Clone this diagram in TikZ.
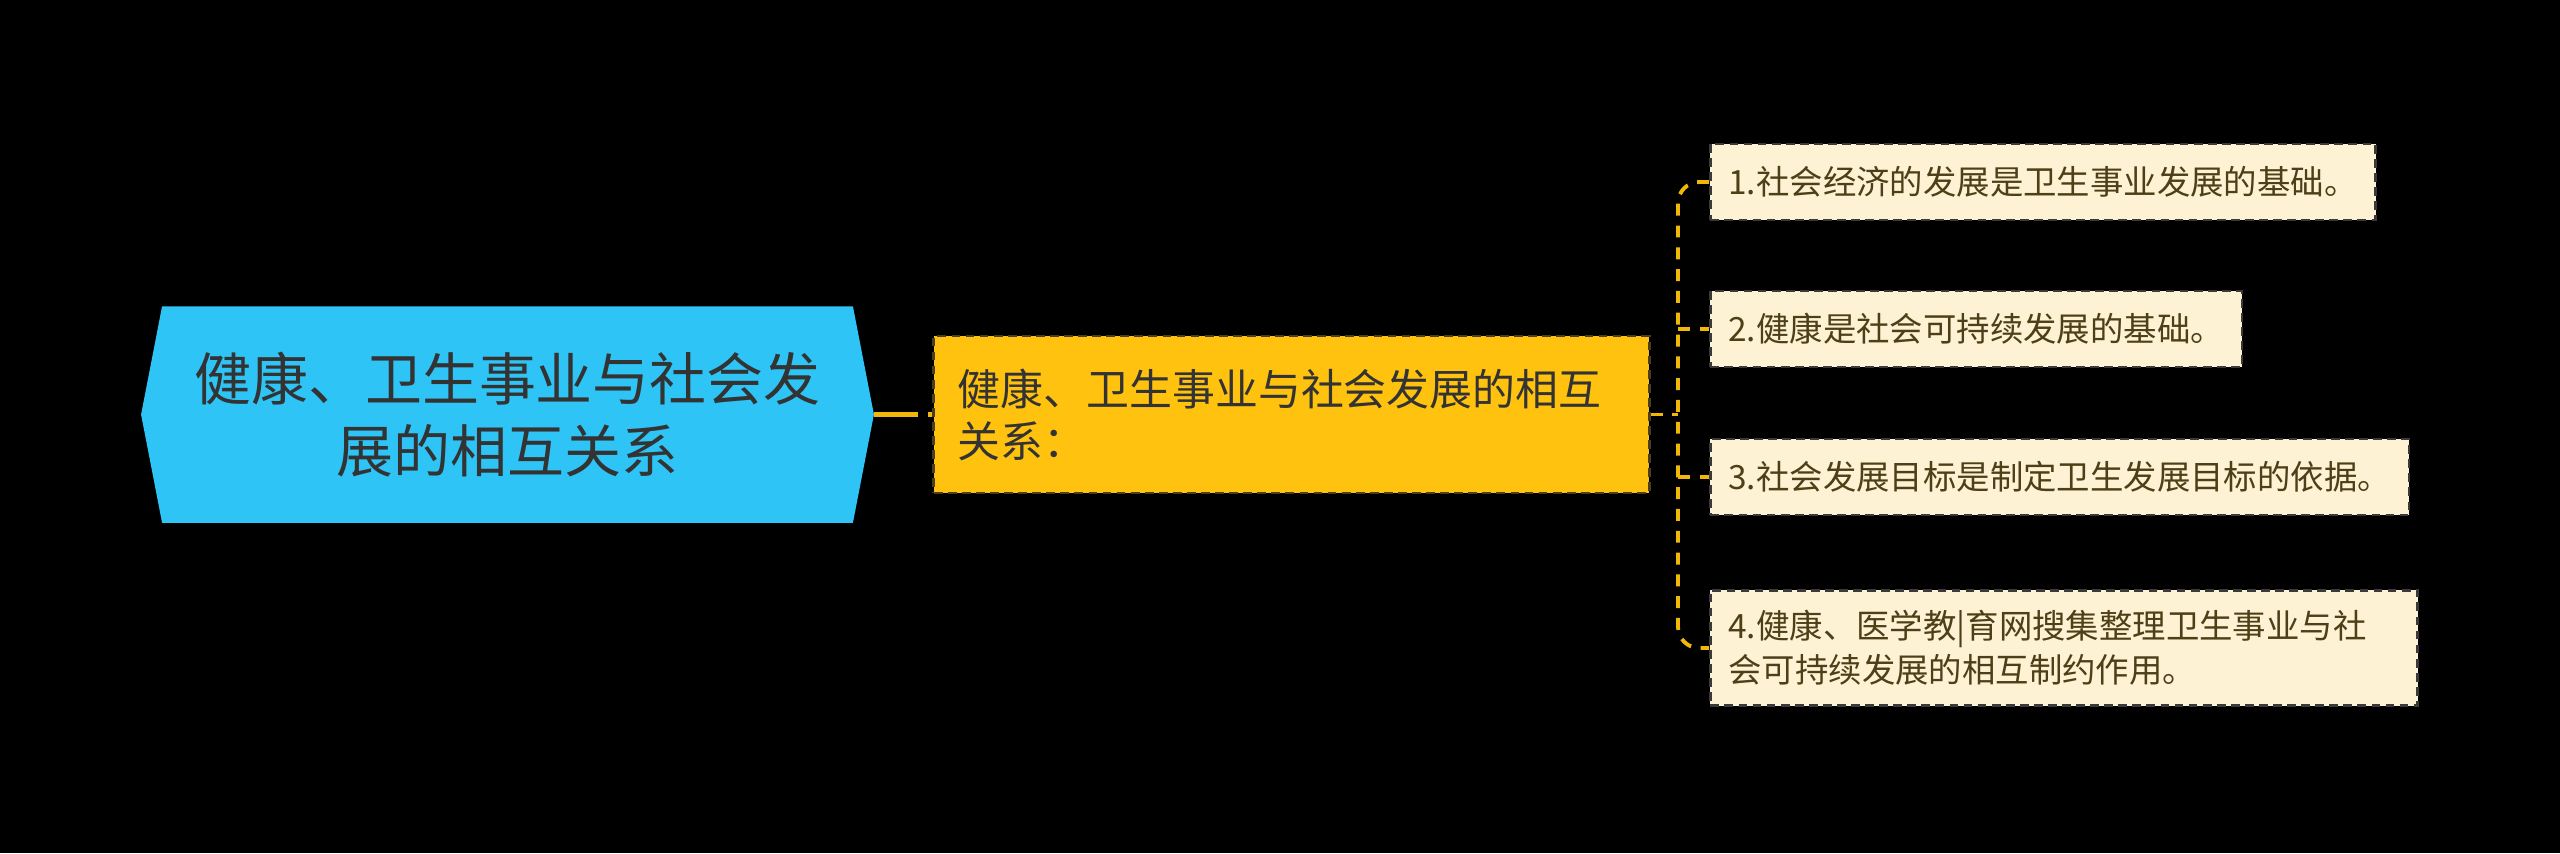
\documentclass[tikz,border=0pt]{standalone}
\usepackage{fontspec}
\setmainfont{Noto Sans CJK SC}
\usetikzlibrary{backgrounds,calc}

\definecolor{rootcyan}{HTML}{2EC4F5}
\definecolor{midgold}{HTML}{FFC20F}
\definecolor{midedge}{HTML}{4A3F1A}
\definecolor{leafcream}{HTML}{FDF2D3}
\definecolor{leafedge}{HTML}{3A3A3A}
\definecolor{linkgold}{HTML}{F2B807}
\definecolor{inkdark}{HTML}{333333}
\definecolor{inkbrown}{HTML}{4D3F17}

\tikzset{
  rootbox/.style={minimum width=7.31cm, minimum height=2.15cm, inner sep=0pt, align=center,
    text=inkdark, font=\fontsize{16.2pt}{20.4pt}\selectfont},
  midbox/.style={draw=midedge, fill=midgold, line width=0.8pt, dash pattern=on 2.5pt off 1.5pt,
    minimum height=1.57cm, text width=6.67cm, inner xsep=0.24cm, align=left, text=inkdark,
    font=\fontsize{12.2pt}{14.8pt}\selectfont},
  leafbox/.style={anchor=west, draw=leafedge, fill=leafcream, line width=0.8pt,
    dash pattern=on 2.5pt off 1.5pt, minimum height=0.76cm, inner xsep=0.18cm, inner ysep=0.2cm,
    align=left, text=inkbrown, font=\fontsize{9.5pt}{12.5pt}\selectfont},
  link/.style={draw=linkgold, line width=1.4pt, dash pattern=on 12.5pt off 3pt},
  branch/.style={draw=linkgold, line width=1.1pt, dash pattern=on 3.4pt off 2.8pt},
}

\begin{document}
\begin{tikzpicture}[x=0.01cm,y=-0.01cm]
\begin{scope}[on background layer]
\fill[black] (0,0) rectangle (2560,853);
\end{scope}
\useasboundingbox (0,0) rectangle (2560,853);

% root
\node[rootbox] (root) at (507.5,414.5) {健康、卫生事业与社会发\\展的相互关系};
\begin{scope}[on background layer]
\fill[rootcyan] (root.west) -- ($(root.north west)+(21,0)$) -- ($(root.north east)+(-21,0)$)
  -- (root.east) -- ($(root.south east)+(-21,0)$) -- ($(root.south west)+(21,0)$) -- cycle;
\end{scope}

\node[midbox] (mid) at (1291.5,414.5) {健康、卫生事业与社会发展的相互\\关系：};

% leaves
\node[leafbox] (l1) at (1709,182) {1.社会经济的发展是卫生事业发展的基础。};
\node[leafbox] (l2) at (1709,329) {2.健康是社会可持续发展的基础。};
\node[leafbox] (l3) at (1709,477) {3.社会发展目标是制定卫生发展目标的依据。};
\node[leafbox, text width=6.71cm] (l4) at (1709,648) {4.健康、医学教|育网搜集整理卫生事业与社\\会可持续发展的相互制约作用。};

\coordinate (hub) at (1678,414.5);
\draw[link] (root.east) -- (mid.west);
\draw[branch] (mid.east) -- (hub);
\draw[branch, rounded corners=6pt] (l1.west) -| (hub) |- (l4.west);
\draw[branch] (hub |- l2.west) -- (l2.west);
\draw[branch] (hub |- l3.west) -- (l3.west);
\end{tikzpicture}
\end{document}
